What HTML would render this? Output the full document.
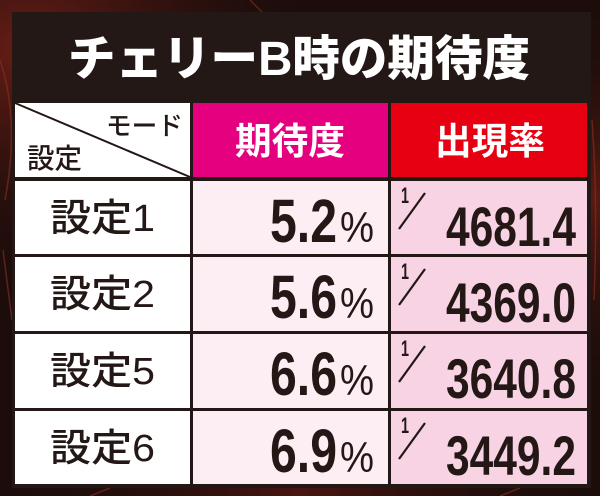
<!DOCTYPE html>
<html><head><meta charset="utf-8">
<style>
html,body{margin:0;padding:0;width:600px;height:496px;overflow:hidden;background:#1c0d0b;}
svg{display:block;}
.jp{font-family:"Liberation Sans","Noto Sans CJK JP",sans-serif;}
.num{font-family:"Liberation Sans",sans-serif;font-weight:bold;fill:#231815;}
</style></head>
<body>
<svg width="600" height="496" viewBox="0 0 600 496" xmlns="http://www.w3.org/2000/svg">
<defs>
<radialGradient id="g1" cx="0.05" cy="0.1" r="0.5">
<stop offset="0" stop-color="#6a1e16"/><stop offset="1" stop-color="#1c0d0b" stop-opacity="0"/>
</radialGradient>
<radialGradient id="g2" cx="0.98" cy="0.4" r="0.4">
<stop offset="0" stop-color="#5a1a12"/><stop offset="1" stop-color="#1c0d0b" stop-opacity="0"/>
</radialGradient>
<radialGradient id="g3" cx="0.5" cy="1" r="0.5">
<stop offset="0" stop-color="#4a1510"/><stop offset="1" stop-color="#1c0d0b" stop-opacity="0"/>
</radialGradient>
</defs>
<rect width="600" height="496" fill="#1c0d0b"/>
<rect width="600" height="496" fill="url(#g1)"/>
<rect width="600" height="496" fill="url(#g2)"/>
<rect width="600" height="496" fill="url(#g3)"/>
<g stroke="#8a3020" stroke-width="1.5" fill="none" opacity="0.6">
<path d="M0 60 Q20 120 5 200"/>
<path d="M3 250 L12 320"/>
<path d="M592 120 Q598 200 594 300"/>
<path d="M250 0 L262 12"/>
<path d="M90 496 L110 488"/>
<path d="M500 496 L520 488"/>
</g>

<rect x="12" y="12" width="579" height="476" fill="#231815"/>

<text class="jp" x="299" y="75" text-anchor="middle" font-size="48" font-weight="900" fill="#ffffff" textLength="462" lengthAdjust="spacingAndGlyphs">チェリーB時の期待度</text>

<rect x="15" y="103" width="175" height="74" fill="#ffffff"/>
<line x1="15" y1="103" x2="190" y2="177" stroke="#231815" stroke-width="2"/>
<text class="jp" x="106" y="135" font-size="26" font-weight="500" fill="#231815" textLength="77" lengthAdjust="spacingAndGlyphs">モード</text>
<text class="jp" x="27" y="168" font-size="28" font-weight="500" fill="#231815" textLength="55" lengthAdjust="spacingAndGlyphs">設定</text>

<rect x="193" y="103" width="195" height="74" fill="#e4007f"/>
<text class="jp" x="290" y="154" text-anchor="middle" font-size="37" font-weight="700" fill="#ffffff" textLength="110" lengthAdjust="spacingAndGlyphs">期待度</text>

<rect x="391" y="103" width="196" height="74" fill="#e60012"/>
<text class="jp" x="490" y="154" text-anchor="middle" font-size="37" font-weight="700" fill="#ffffff" textLength="110" lengthAdjust="spacingAndGlyphs">出現率</text>

<g transform="translate(0,181)">
<rect x="15" y="0" width="175" height="73" fill="#ffffff"/>
<rect x="193" y="0" width="195" height="73" fill="#fdeef4"/>
<rect x="391" y="0" width="196" height="73" fill="#f8d3e3"/>
<text class="jp" x="50" y="50" font-size="38" font-weight="500" fill="#231815" textLength="105" lengthAdjust="spacingAndGlyphs">設定1</text>
<text class="num" x="270" y="61" font-size="61" textLength="67" lengthAdjust="spacingAndGlyphs">5.2</text>
<text class="num" x="340" y="61" font-size="43" style="font-weight:normal" textLength="34" lengthAdjust="spacingAndGlyphs">%</text>
<text class="num" x="401" y="22" font-size="22" textLength="8" lengthAdjust="spacingAndGlyphs">1</text>
<line x1="399" y1="48" x2="425" y2="12" stroke="#231815" stroke-width="2.2"/>
<text class="num" x="446" y="65" font-size="56" textLength="130" lengthAdjust="spacingAndGlyphs">4681.4</text>
</g>

<g transform="translate(0,257)">
<rect x="15" y="0" width="175" height="74" fill="#ffffff"/>
<rect x="193" y="0" width="195" height="74" fill="#fdeef4"/>
<rect x="391" y="0" width="196" height="74" fill="#f8d3e3"/>
<text class="jp" x="50" y="50" font-size="38" font-weight="500" fill="#231815" textLength="105" lengthAdjust="spacingAndGlyphs">設定2</text>
<text class="num" x="270" y="61" font-size="61" textLength="67" lengthAdjust="spacingAndGlyphs">5.6</text>
<text class="num" x="340" y="61" font-size="43" style="font-weight:normal" textLength="34" lengthAdjust="spacingAndGlyphs">%</text>
<text class="num" x="401" y="22" font-size="22" textLength="8" lengthAdjust="spacingAndGlyphs">1</text>
<line x1="399" y1="48" x2="425" y2="12" stroke="#231815" stroke-width="2.2"/>
<text class="num" x="446" y="65" font-size="56" textLength="130" lengthAdjust="spacingAndGlyphs">4369.0</text>
</g>

<g transform="translate(0,334)">
<rect x="15" y="0" width="175" height="74" fill="#ffffff"/>
<rect x="193" y="0" width="195" height="74" fill="#fdeef4"/>
<rect x="391" y="0" width="196" height="74" fill="#f8d3e3"/>
<text class="jp" x="50" y="50" font-size="38" font-weight="500" fill="#231815" textLength="105" lengthAdjust="spacingAndGlyphs">設定5</text>
<text class="num" x="270" y="61" font-size="61" textLength="67" lengthAdjust="spacingAndGlyphs">6.6</text>
<text class="num" x="340" y="61" font-size="43" style="font-weight:normal" textLength="34" lengthAdjust="spacingAndGlyphs">%</text>
<text class="num" x="401" y="22" font-size="22" textLength="8" lengthAdjust="spacingAndGlyphs">1</text>
<line x1="399" y1="48" x2="425" y2="12" stroke="#231815" stroke-width="2.2"/>
<text class="num" x="446" y="64" font-size="56" textLength="130" lengthAdjust="spacingAndGlyphs">3640.8</text>
</g>

<g transform="translate(0,411)">
<rect x="15" y="0" width="175" height="73" fill="#ffffff"/>
<rect x="193" y="0" width="195" height="73" fill="#fdeef4"/>
<rect x="391" y="0" width="196" height="73" fill="#f8d3e3"/>
<text class="jp" x="50" y="50" font-size="38" font-weight="500" fill="#231815" textLength="105" lengthAdjust="spacingAndGlyphs">設定6</text>
<text class="num" x="270" y="61" font-size="61" textLength="67" lengthAdjust="spacingAndGlyphs">6.9</text>
<text class="num" x="340" y="61" font-size="43" style="font-weight:normal" textLength="34" lengthAdjust="spacingAndGlyphs">%</text>
<text class="num" x="401" y="22" font-size="22" textLength="8" lengthAdjust="spacingAndGlyphs">1</text>
<line x1="399" y1="48" x2="425" y2="12" stroke="#231815" stroke-width="2.2"/>
<text class="num" x="446" y="64" font-size="56" textLength="130" lengthAdjust="spacingAndGlyphs">3449.2</text>
</g>
</svg>
</body></html>
